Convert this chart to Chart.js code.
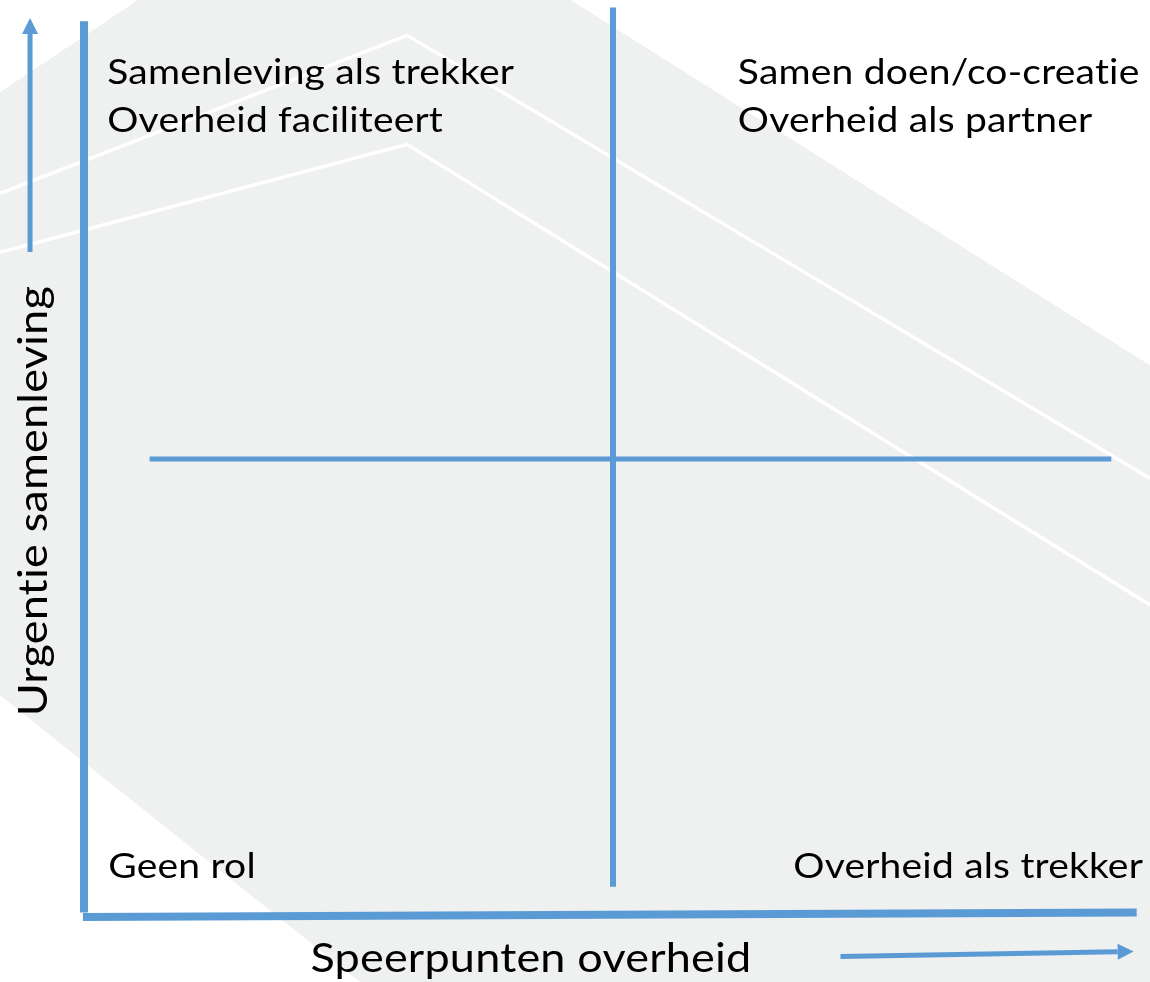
<!DOCTYPE html>
<html>
<head>
<meta charset="utf-8">
<title>Urgentie samenleving / Speerpunten overheid</title>
<script src="https://cdn.jsdelivr.net/npm/chart.js@4.4.1/dist/chart.umd.min.js"></script>
<style>
    html, body { margin: 0; padding: 0; background: #ffffff; }
    #wrap { position: relative; width: 1150px; height: 982px; }
</style>
</head>
<body>
<div id="wrap"><canvas id="matrix"></canvas></div>
<script>
/* =============================================
   Quadrant matrix - values on a 0..10 scale
   x: speerpunten overheid, y: urgentie samenleving
   ============================================= */

const xAxisLine = [{ x: -0.01, y: 0.0 }, { x: 9.95, y: 0.05 }];
const yAxisLine = [{ x: 0, y: 0.05 }, { x: 0, y: 9.78 }];
const splitVertical = [{ x: 5, y: 0.33 }, { x: 5, y: 9.93 }];
const splitHorizontal = [{ x: 0.62, y: 5 }, { x: 9.71, y: 5 }];
const arrowUp = [{ x: -0.51, y: 7.26 }, { x: -0.51, y: 9.64 }];
const arrowRight = [{ x: 7.15, y: -0.43 }, { x: 9.77, y: -0.38 }];

const quadrantNames = [
    ['Samenleving als trekker', 'Overheid faciliteert'],
    ['Samen doen/co-creatie', 'Overheid als partner'],
    ['Geen rol'],
    ['Overheid als trekker']
];
const xTitle = 'Speerpunten overheid';
const yTitle = 'Urgentie samenleving';

// where the texts sit, in the same 0..10 units
const quadrantAnchors = [
    { x: 0.22, y: 9.09, align: 'left' },
    { x: 6.18, y: 9.09, align: 'left' },
    { x: 0.23, y: 0.43, align: 'left' },
    { x: 10.01, y: 0.43, align: 'right' }
];

const BLUE = '#5b9bd5';
const GREY = '#eff0f0';
const LABEL_FONT = '39px Lato, "Open Sans", sans-serif';
const TITLE_FONT = '45px Lato, "Open Sans", sans-serif';
const SQUASH = 0.9;     // Lato is taller than the original face
const LINE_GAP = 0.525;

// light grey backdrop with two white folds (fractions of the canvas)
const backdropPlugin = {
    id: 'backdrop',
    beforeDraw(chart) {
        const ctx = chart.ctx;
        const w = chart.width, h = chart.height;
        const shape = [[0, .094], [.12, 0], [.496, 0], [1, .372], [1, 1], [.313, 1], [0, .708]];
        const folds = [
            [[0, .197], [.354, .036], [1, .487]],
            [[0, .257], [.354, .147], [1, .616]]
        ];
        ctx.save();
        ctx.fillStyle = '#ffffff';
        ctx.fillRect(0, 0, w, h);
        ctx.fillStyle = GREY;
        ctx.beginPath();
        shape.forEach((p, i) => i ? ctx.lineTo(p[0] * w, p[1] * h) : ctx.moveTo(p[0] * w, p[1] * h));
        ctx.closePath();
        ctx.fill();
        ctx.strokeStyle = '#ffffff';
        ctx.lineWidth = 3.5;
        folds.forEach(f => {
            ctx.beginPath();
            f.forEach((p, i) => i ? ctx.lineTo(p[0] * w, p[1] * h) : ctx.moveTo(p[0] * w, p[1] * h));
            ctx.stroke();
        });
        ctx.restore();
    }
};

// arrow heads: points outside the chart area are skipped by Chart.js, so draw them here
const arrowPlugin = {
    id: 'arrowHeads',
    afterDatasetsDraw(chart) {
        const ctx = chart.ctx;
        chart.data.datasets.forEach((ds, i) => {
            if (!ds.arrowHead) return;
            const pts = chart.getDatasetMeta(i).data;
            const a = pts[pts.length - 2], b = pts[pts.length - 1];
            const len = Math.hypot(b.x - a.x, b.y - a.y);
            const ux = (b.x - a.x) / len, uy = (b.y - a.y) / len;
            const headLen = 16, half = 8;
            ctx.save();
            ctx.fillStyle = BLUE;
            ctx.beginPath();
            ctx.moveTo(b.x + ux * headLen, b.y + uy * headLen);
            ctx.lineTo(b.x - uy * half, b.y + ux * half);
            ctx.lineTo(b.x + uy * half, b.y - ux * half);
            ctx.closePath();
            ctx.fill();
            ctx.restore();
        });
    }
};

function drawText(ctx, text, x, y) {
    ctx.save();
    ctx.translate(x, y);
    ctx.scale(1, SQUASH);
    ctx.fillText(text, 0, 0);
    ctx.restore();
}

const labelPlugin = {
    id: 'labels',
    afterDatasetsDraw(chart) {
        const ctx = chart.ctx;
        const xs = chart.scales.x, ys = chart.scales.y;
        ctx.save();
        ctx.fillStyle = '#000000';
        ctx.textBaseline = 'alphabetic';
        ctx.letterSpacing = '0.2px';   // also keeps "ti" from joining
        ctx.font = LABEL_FONT;

        quadrantNames.forEach((lines, i) => {
            const a = quadrantAnchors[i];
            ctx.textAlign = a.align;
            lines.forEach((t, j) => {
                drawText(ctx, t, xs.getPixelForValue(a.x), ys.getPixelForValue(a.y - j * LINE_GAP));
            });
        });

        // x title under the axis
        ctx.font = TITLE_FONT;
        ctx.textAlign = 'left';
        drawText(ctx, xTitle, xs.getPixelForValue(2.14), ys.getPixelForValue(-0.6));

        // y title, turned to read upwards
        ctx.translate(xs.getPixelForValue(-0.35), ys.getPixelForValue(4.54));
        ctx.rotate(-Math.PI / 2);
        ctx.textAlign = 'center';
        drawText(ctx, yTitle, 0, 0);
        ctx.restore();
    }
};

function lineSet(data, width, extra) {
    return Object.assign({
        data: data,
        showLine: true,
        borderColor: BLUE,
        backgroundColor: BLUE,
        borderWidth: width,
        pointRadius: 0,
        pointHoverRadius: 0,
        clip: false
    }, extra || {});
}

new Chart(document.getElementById('matrix'), {
    type: 'scatter',
    data: {
        datasets: [
            lineSet(yAxisLine, 8),
            lineSet(xAxisLine, 8),
            lineSet(splitVertical, 6),
            lineSet(splitHorizontal, 5),
            lineSet(arrowUp, 5, { arrowHead: true }),
            lineSet(arrowRight, 5, { arrowHead: true })
        ]
    },
    options: {
        responsive: true,
        maintainAspectRatio: false,
        devicePixelRatio: 1,
        animation: false,
        events: [],
        layout: { autoPadding: false, padding: { left: 84, right: 8, top: 1, bottom: 65 } },
        plugins: {
            legend: { display: false },
            tooltip: { enabled: false }
        },
        scales: {
            x: { type: 'linear', min: 0, max: 10, display: false },
            y: { type: 'linear', min: 0, max: 10, display: false }
        }
    },
    plugins: [backdropPlugin, arrowPlugin, labelPlugin]
});
</script>
</body>
</html>
